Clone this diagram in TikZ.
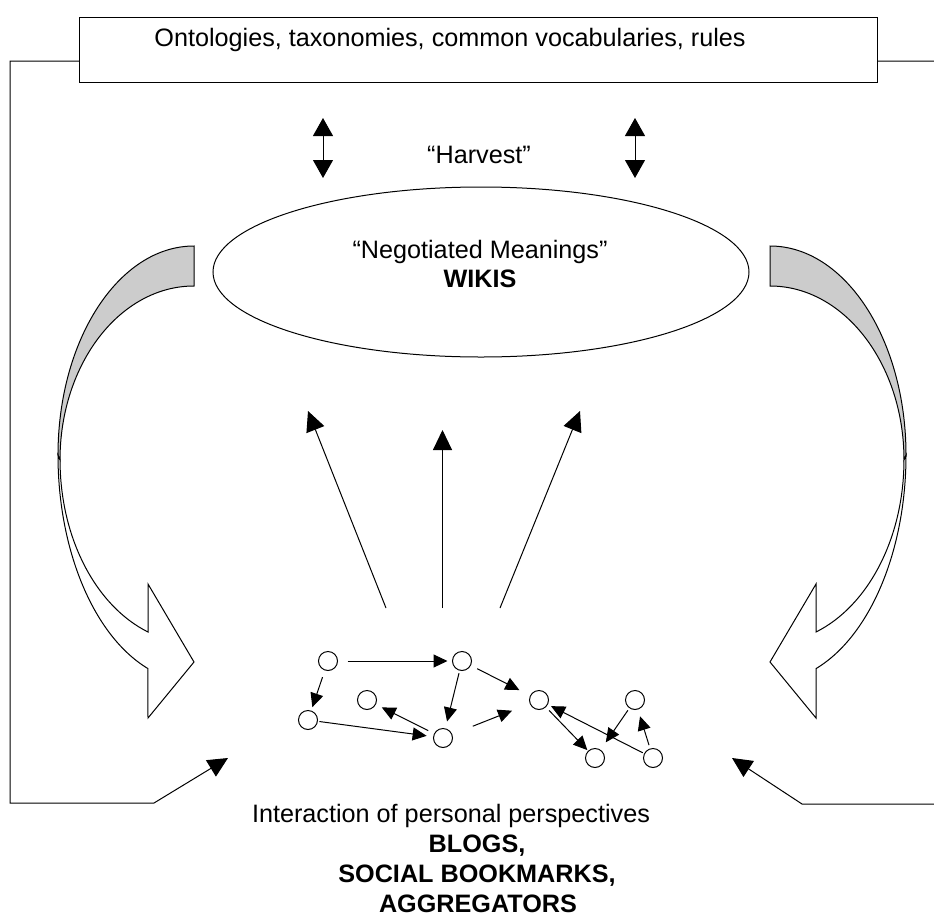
\documentclass[tikz,border=0pt]{standalone}
\usepackage{fontspec}
\setmainfont{Liberation Sans}
\usetikzlibrary{arrows.meta,shapes.geometric}
\begin{document}
\begin{tikzpicture}[x=1bp,y=-1bp,
  line width=1bp,
  lbl/.style={font=\fontsize{25.3}{30}\selectfont, inner sep=0pt, anchor=base},
  bigtip/.style={-{Triangle[length=20bp,width=19bp]}},
  dbltip/.style={{Triangle[length=18bp,width=20bp]}-{Triangle[length=18bp,width=20bp]}},
  net/.style={-{Triangle[length=14bp,width=13bp]}},
  dot/.style={circle, draw, minimum size=19bp, inner sep=0pt},
  band/.style={fill=gray!40, draw},
  front/.style={fill=white, draw}]
\useasboundingbox (0,0) rectangle (934,918);

% ---- top box ----
\node[draw, minimum width=797bp, minimum height=65bp, inner sep=0pt] (onto) at (478.5,49.5) {};
\node[lbl] (ontotext) at (450,46) {Ontologies, taxonomies, common vocabularies, rules};

% ---- wiki ellipse ----
\node[draw, ellipse, minimum width=536bp, minimum height=170bp, inner sep=0pt] (wikis) at (481,272) {};
\node[lbl] (negot) at (480,258) {“Negotiated Meanings”};
\node[lbl, font=\fontsize{25.3}{30}\selectfont\bfseries] (wikitext) at (480,287) {WIKIS};

% ---- harvest ----
\node[lbl] (harvest) at (479,163) {“Harvest”};
\coordinate (h1a) at (323,118);
\coordinate (h1b) at (323,178);
\coordinate (h2a) at (635,118);
\coordinate (h2b) at (635,178);
\draw[dbltip] (h1a) -- (h1b);
\draw[dbltip] (h2a) -- (h2b);

% ---- curved arrows (left, then mirrored right) ----
\foreach \sh/\sc in {0/1, 964/-1} {
\begin{scope}[shift={(\sh,0)}, xscale=\sc]
  \path[band] (194,246) arc[start angle=270, end angle=180, x radius=136, y radius=209]
     -- (60,460) arc[start angle=180, end angle=270, x radius=134, y radius=174] -- cycle;
  \path[front] (58,455) arc[start angle=180, end angle=109.8, x radius=136, y radius=227]
     -- (148,718) -- (194,662) -- (148,584) -- (148,632)
     arc[start angle=110.1, end angle=180, x radius=134, y radius=183] -- cycle;
\end{scope}
}

% ---- fan of arrows towards the wiki ----
\coordinate (f1s) at (386,608); \coordinate (f1t) at (308,411);
\coordinate (f2s) at (442.5,608); \coordinate (f2t) at (442.5,430);
\coordinate (f3s) at (500,608); \coordinate (f3t) at (580,411);
\draw[bigtip] (f1s) -- (f1t);
\draw[bigtip] (f2s) -- (f2t);
\draw[bigtip] (f3s) -- (f3t);

% ---- network of personal perspectives ----
\node[dot] (n1) at (328,661) {};
\node[dot] (n2) at (462,661) {};
\node[dot] (n3) at (367,700) {};
\node[dot] (n4) at (308,720) {};
\node[dot] (n5) at (443,738) {};
\node[dot] (n6) at (539,700) {};
\node[dot] (n7) at (635,700) {};
\node[dot] (n8) at (595,758) {};
\node[dot] (n9) at (653,758) {};

\draw[net, shorten <=9.5bp, shorten >=4.5bp] (n1) -- (n2);
\draw[net, shorten <=7bp, shorten >=3.5bp] (n1) -- (n4);
\draw[net, shorten <=1.5bp, shorten >=6.5bp] (n4) -- (n5);
\draw[net, shorten <=6.5bp, shorten >=6.5bp] (n5) -- (n3);
\draw[net, shorten <=2.5bp, shorten >=7bp] (n2) -- (n5);
\draw[net, shorten <=7bp, shorten >=12bp] (n2) -- (n6);
\draw[net, shorten <=22bp, shorten >=19bp] (n5) -- (n6);
\draw[net, shorten <=1.5bp, shorten >=3.5bp] (n9) -- (n6);
\draw[net, shorten <=4.5bp, shorten >=1bp] (n6) -- (n8);
\draw[net, shorten <=2.5bp, shorten >=9bp] (n7) -- (n8);
\draw[net, shorten <=3.5bp, shorten >=7bp] (n9) -- (n7);

% ---- feedback frame from the top box ----
\coordinate (lcorner) at (10,61);
\coordinate (lbottom) at (10,803);
\coordinate (lbend) at (154,803);
\coordinate (ltip) at (228,758);
\coordinate (rcorner) at (937,61);
\coordinate (rbottom) at (937,804);
\coordinate (rbend) at (802,804);
\coordinate (rtip) at (732,758);
\draw[bigtip] (onto.west |- lcorner) -- (lcorner) -- (lbottom) -- (lbend) -- (ltip);
\draw[bigtip] (onto.east |- rcorner) -- (rcorner) -- (rbottom) -- (rbend) -- (rtip);

% ---- bottom caption ----
\node[lbl] (inter) at (451,822) {Interaction of personal perspectives};
\node[lbl, font=\fontsize{25.3}{30}\selectfont\bfseries] (blogs) at (477,852) {BLOGS,};
\node[lbl, font=\fontsize{25.3}{30}\selectfont\bfseries] (social) at (477,882) {SOCIAL BOOKMARKS,};
\node[lbl, font=\fontsize{25.3}{30}\selectfont\bfseries] (aggr) at (478,912) {AGGREGATORS};
\end{tikzpicture}
\end{document}
